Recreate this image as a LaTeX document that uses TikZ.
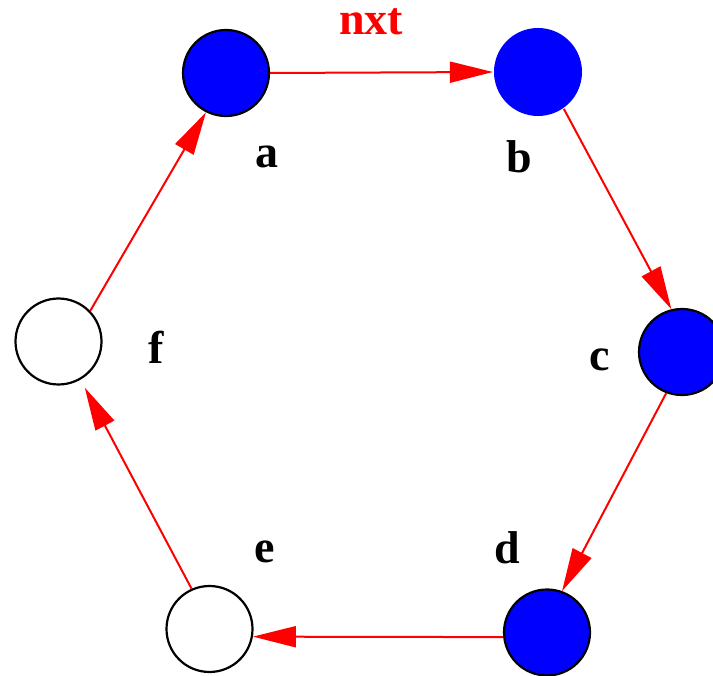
\documentclass[tikz,border=0pt]{standalone}
\usepackage{fontspec}
\setmainfont{Liberation Serif}
\usetikzlibrary{arrows.meta}

\begin{document}
\begin{tikzpicture}[
  x=1pt, y=-1pt,
  cell/.style={circle, inner sep=0pt, minimum size=86pt, line width=2.2pt},
  fullcell/.style={cell, draw=black, fill=blue},
  bluecell/.style={cell, fill=blue, minimum size=88pt},
  emptycell/.style={cell, draw=black, fill=white},
  lbl/.style={inner sep=0pt, font=\fontsize{46}{46}\selectfont\bfseries},
  arr/.style={-{Triangle[length=43pt, width=21pt]}, red, line width=2pt}
]
\useasboundingbox (0,0) rectangle (713,676);
\node[fullcell] (a) at (226,73) {};
\node[bluecell] (b) at (538,72) {};
\node[fullcell] (c) at (682,352) {};
\node[fullcell] (d) at (547,632.5) {};
\node[emptycell] (e) at (209.5,629) {};
\node[emptycell] (f) at (58.5,341.5) {};

\node[lbl] (la) at (267,157) {a};
\node[lbl] (lb) at (519,157) {b};
\node[lbl] (lc) at (600,360) {c};
\node[lbl] (ld) at (507.5,548) {d};
\node[lbl] (le) at (265,552) {e};
\node[lbl] (lf) at (156,347) {f};
\node[lbl, text=red] (lnxt) at (371,22) {nxt};

\draw[arr] (a.east) -- (b.west);
\draw[arr] (b.-55) -- (c.104);
\draw[arr] (c.249) -- (d.70);
\draw[arr] (d.186) -- (e.-10.5);
\draw[arr, shorten >=9pt] (e.114) -- (f.-60);
\draw[arr] (f.44) -- (a.243);
\end{tikzpicture}
\end{document}
